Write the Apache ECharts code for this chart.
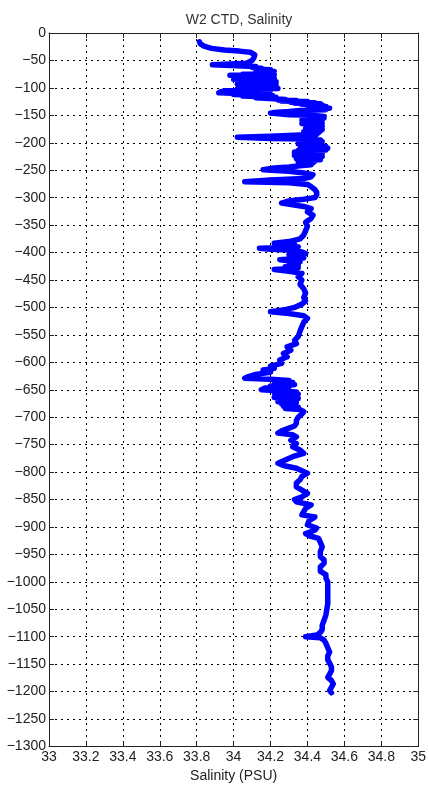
<!DOCTYPE html>
<html><head><meta charset="utf-8">
<script src="https://cdn.jsdelivr.net/npm/echarts@6/dist/echarts.min.js"></script>
<style>html,body{margin:0;padding:0;background:#fff}#c{width:429px;height:795px}</style>
</head><body><div id="c"></div>
<script>
const titleText = "W2 CTD, Salinity";
const xAxisName = "Salinity (PSU)";
const depth = [-16,-20,-24,-28,-31,-33,-35,-40,-45,-50,-55,-57,
-58,-60,-61,-63,-64,-66,-67,-69,-70,-72,-73,-75,-76,-77,-79,-80,-81,-83,-84,-86,-87,-89,-90,-92,-93,-95,-96,-98,-99,-101,-102,-104,-105,-107,-108,-109,-111,-112,-114,-115,-117,-118,
-120,-121,-122,-123,-124,-125,-126,-127,-128,-129,-130,-131,-132,-134,-135,-137,-138,-140,-141,-143,-145,-146,-148,-149,-150,-152,-153,-155,-156,-158,-159,-161,-162,-164,-165,-167,-168,-170,-171,-173,-174,-176,-177,-179,-180,-182,-183,-185,-186,-188,-190,-191,-192,-193,-195,-196,-198,-199,
-201,-202,-204,-205,-207,-208,-210,-211,-213,-214,-216,-217,-219,-220,-222,-223,-225,-226,-228,-229,-231,-232,-234,-235,-237,-238,-240,-242,-244,-246,-249,-252,-255,-258,-262,-265,-268,-271,-273,-276,-280,-285,-290,-295,
-300,-303,-306,-310,-313,-316,-320,-326,-332,-338,-345,-352,-360,-368,-375,-380,-383,-385,-387,-390,-392,-394,-396,-399,-402,-404,-406,-408,-410,-413,-415,-417,-420,-422,-424,-426,-428,-431,-434,-438,-444,-450,-458,-466,-474,-482,-488,-494,
-500,-504,-508,-511,-515,-520,-527,-535,-543,-553,-560,-566,-572,-578,-584,-590,-596,-602,-607,-611,-614,-618,-622,-626,-629,-631,-633,-635,-637,-639,-641,-643,-645,-647,-650,-652,-654,-656,-658,-660,-662,-664,-666,-668,-670,-672,-674,-676,-678,-680,-682,-684,-686,-690,-694,
-700,-706,-711,-716,-720,-725,-729,-732,-736,-742,-748,-754,-760,-766,-772,-778,-784,-788,-793,-802,-808,-814,-820,-827,-833,-839,-845,-850,-854,-860,-866,-872,-878,-882,-888,-896,
-902,-906,-912,-916,-921,-928,-936,-945,-954,-960,-966,-973,-981,-987,-993,-1000,-1009,-1020,-1030,-1040,-1050,-1060,-1070,-1079,-1087,-1092,-1097,-1100,-1102,-1106,-1112,-1120,-1128,-1135,-1142,-1148,-1155,-1162,-1168,-1174,-1180,-1186,-1192,-1198,-1202];
const salinity = [33.815,33.82,33.84,33.88,33.95,34.03,34.09,34.115,34.11,34.10,34.07,33.95,
33.885,34.05,34.12,34.10,34.15,34.13,34.20,34.17,34.22,34.12,34.21,34.05,34.22,33.98,33.97,34.15,34.02,34.22,34.00,34.18,34.03,34.23,34.08,34.22,34.02,34.23,34.06,34.20,34.04,34.24,34.02,34.20,33.96,33.93,34.05,33.92,34.10,34.00,34.21,34.05,34.23,34.12,
34.22,34.28,34.24,34.34,34.26,34.40,34.31,34.44,34.33,34.47,34.37,34.48,34.40,34.50,34.42,34.52,34.44,34.50,34.36,34.30,34.22,34.20,34.21,34.30,34.42,34.49,34.38,34.49,34.40,34.48,34.37,34.47,34.38,34.48,34.37,34.47,34.39,34.48,34.40,34.47,34.39,34.48,34.40,34.47,34.38,34.46,34.38,34.45,34.36,34.20,34.02,34.03,34.20,34.40,34.47,34.38,34.48,34.36,
34.47,34.35,34.48,34.36,34.50,34.38,34.51,34.36,34.50,34.35,34.47,34.33,34.48,34.33,34.47,34.33,34.48,34.34,34.46,34.34,34.47,34.35,34.44,34.35,34.43,34.36,34.42,34.36,34.30,34.22,34.16,34.30,34.38,34.43,34.42,34.38,34.20,34.06,34.30,34.40,34.42,34.44,34.45,34.45,
34.44,34.38,34.30,34.26,34.27,34.38,34.42,34.40,34.43,34.42,34.39,34.40,34.39,34.38,34.36,34.30,34.22,34.33,34.27,34.35,34.14,34.20,34.33,34.37,34.39,34.30,34.37,34.33,34.38,34.25,34.30,34.36,34.37,34.30,34.35,34.28,34.35,34.22,34.30,34.37,34.35,34.37,34.36,34.38,34.39,34.38,34.39,34.37,
34.33,34.28,34.20,34.30,34.38,34.40,34.38,34.37,34.36,34.35,34.33,34.34,34.29,34.31,34.27,34.29,34.25,34.26,34.20,34.22,34.16,34.20,34.12,34.08,34.06,34.20,34.30,34.22,34.32,34.24,34.33,34.20,34.30,34.17,34.15,34.25,34.34,34.22,34.35,34.24,34.33,34.22,34.35,34.25,34.33,34.24,34.34,34.26,34.33,34.27,34.35,34.28,34.36,34.38,34.37,
34.35,34.34,34.34,34.33,34.30,34.26,34.24,34.32,34.34,34.31,34.34,34.32,34.36,34.38,34.32,34.28,34.24,34.27,34.34,34.40,34.37,34.36,34.34,34.34,34.37,34.40,34.37,34.33,34.34,34.42,34.39,34.38,34.37,34.44,34.41,34.40,
34.45,34.44,34.39,34.41,34.46,34.47,34.48,34.47,34.47,34.49,34.49,34.47,34.47,34.50,34.50,34.51,34.51,34.51,34.51,34.51,34.505,34.50,34.49,34.48,34.48,34.47,34.45,34.39,34.47,34.49,34.50,34.51,34.52,34.51,34.51,34.52,34.53,34.53,34.52,34.51,34.53,34.54,34.53,34.52,34.53];
const xMin = 33, xMax = 35, xStep = 0.2;
const yMin = -1300, yMax = 0, yStep = 50;

const pts = depth.map((d, i) => [salinity[i], d]);
const font = '"Liberation Sans", Arial, sans-serif';
const chart = echarts.init(document.getElementById('c'), null, {renderer: 'canvas'});
const grid = {left: 49, right: 9.5, top: 33, bottom: 48.5};
const gridLine = {show: true, lineStyle: {color: '#000', width: 1, type: [2, 4]}};
chart.setOption({
  animation: false,
  backgroundColor: '#fff',
  title: {text: titleText, left: 234, top: 8, textAlign: 'center',
    textStyle: {fontFamily: font, fontSize: 14, fontWeight: 'normal', color: '#333'}},
  grid: grid,
  xAxis: [{
    type: 'value', min: xMin, max: xMax, interval: xStep,
    name: xAxisName, nameLocation: 'middle', nameGap: 22,
    nameTextStyle: {fontFamily: font, fontSize: 14, color: '#222'},
    axisLine: {show: true, onZero: false, lineStyle: {color: '#222', width: 1}},
    axisTick: {show: true, inside: true, length: 5, lineStyle: {color: '#222'}},
    axisLabel: {fontFamily: font, fontSize: 14, color: '#222', margin: 4,
      formatter: v => String(Number(v.toFixed(1)))},
    splitLine: gridLine
  }, {
    type: 'value', min: xMin, max: xMax, interval: xStep, position: 'top',
    axisLine: {show: true, onZero: false, lineStyle: {color: '#222', width: 1}},
    axisTick: {show: true, inside: true, length: 5, lineStyle: {color: '#222'}},
    axisLabel: {show: false}, splitLine: {show: false}
  }],
  yAxis: [{
    type: 'value', min: yMin, max: yMax, interval: yStep,
    axisLine: {show: true, onZero: false, lineStyle: {color: '#222', width: 1}},
    axisTick: {show: true, inside: true, length: 5, lineStyle: {color: '#222'}},
    axisLabel: {fontFamily: font, fontSize: 14, color: '#222', margin: 3,
      formatter: v => String(v).replace('-', '\u2212')},
    splitLine: gridLine
  }, {
    type: 'value', min: yMin, max: yMax, interval: yStep, position: 'right',
    axisLine: {show: true, onZero: false, lineStyle: {color: '#222', width: 1}},
    axisTick: {show: true, inside: true, length: 5, lineStyle: {color: '#222'}},
    axisLabel: {show: false}, splitLine: {show: false}
  }],
  series: [{
    type: 'line', xAxisIndex: 0, yAxisIndex: 0, data: pts,
    showSymbol: false, symbol: 'none', smooth: false,
    lineStyle: {color: '#0000ff', width: 5.5, cap: 'round', join: 'round'}
  }]
});
</script></body></html>
